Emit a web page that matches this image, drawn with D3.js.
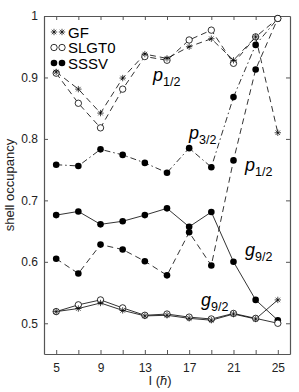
<!DOCTYPE html>
<html>
<head>
<meta charset="utf-8">
<script src="https://cdn.jsdelivr.net/npm/d3@7"></script>
<style>
body { margin: 0; background: #fff; }
text { font-family: "Liberation Sans", Arial, sans-serif; }
</style>
</head>
<body>
<svg></svg>
<script>
// spin values (x axis)
var spins = [5, 7, 9, 11, 13, 15, 17, 19, 21, 23, 25];
var xTickLabels = [5, 9, 13, 17, 21, 25];
var yTickValues = [0.5, 0.6, 0.7, 0.8, 0.9, 1];

// GF model
var gfP12 = [0.909, 0.881, 0.842, 0.899, 0.938, 0.931, 0.950, 0.963, 0.928, 0.966, 0.810];
var gfG92 = [0.519, 0.524, 0.533, 0.521, 0.512, 0.513, 0.508, 0.505, 0.515, 0.507, 0.538];
// SLGT0 model
var slP12 = [0.907, 0.858, 0.818, 0.881, 0.934, 0.928, 0.961, 0.977, 0.923, 0.966, 0.996];
var slG92 = [0.519, 0.530, 0.538, 0.525, 0.513, 0.515, 0.510, 0.507, 0.516, 0.508, 0.500];
// SSSV model
var ssP32 = [0.758, 0.756, 0.783, 0.774, 0.761, 0.745, 0.785, 0.754, 0.868, 0.953, 0.996];
var ssG92 = [0.676, 0.682, 0.661, 0.666, 0.676, 0.687, 0.657, 0.681, 0.600, 0.538, 0.505];
var ssP12 = [0.605, 0.581, 0.628, 0.620, 0.601, 0.578, 0.648, 0.594, 0.765, 0.913, 0.996];

var legendNames = ['GF', 'SLGT0', 'SSSV'];

var width = 299, height = 392;
var svg = d3.select('svg').attr('width', width).attr('height', height);

var x = d3.scaleLinear().domain([3.9, 26.1]).range([44, 290]);
var y = d3.scaleLinear().domain([0.45, 1]).range([354, 16]);

var dashed = '6,4';
var dashdot = '6,3,1.5,3';

var series = [
	{ values: ssP32, dash: dashdot, marker: 'dot' },
	{ values: ssG92, dash: null, marker: 'dot' },
	{ values: ssP12, dash: dashed, marker: 'dot' },
	{ values: slG92, dash: null, marker: 'circle' },
	{ values: gfG92, dash: null, marker: 'star' },
	{ values: slP12, dash: dashed, marker: 'circle' },
	{ values: gfP12, dash: dashed, marker: 'star' }
];

var frameColor = '#555';

// axes (ticks pointing inward, box around plot)
svg.append('g')
	.attr('transform', 'translate(0,354)')
	.call(d3.axisBottom(x).tickValues(spins).tickSize(-4).tickSizeOuter(0)
		.tickFormat(function(d) { return xTickLabels.indexOf(d) >= 0 ? d : ''; }))
	.call(styleAxis)
	.selectAll('text').attr('dy', '1.25em');

svg.append('g')
	.attr('transform', 'translate(0,16)')
	.call(d3.axisTop(x).tickValues(spins).tickSize(-4).tickSizeOuter(0).tickFormat(''))
	.call(styleAxis);

svg.append('g')
	.attr('transform', 'translate(44,0)')
	.call(d3.axisLeft(y).tickValues(yTickValues).tickSize(-4).tickSizeOuter(0)
		.tickFormat(function(d) { return d === 1 ? '1' : d3.format('.1f')(d); }))
	.call(styleAxis)
	.selectAll('text').attr('x', -6);

svg.append('g')
	.attr('transform', 'translate(290,0)')
	.call(d3.axisRight(y).tickValues(yTickValues).tickSize(-4).tickSizeOuter(0).tickFormat(''))
	.call(styleAxis);

function styleAxis(g) {
	g.select('.domain').attr('stroke', frameColor).attr('stroke-width', 1.2);
	g.selectAll('.tick line').attr('stroke', frameColor);
	g.selectAll('text').attr('font-size', 12).attr('fill', '#222')
		.attr('font-family', '"Liberation Sans", Arial, sans-serif');
}

// axis titles
svg.append('text')
	.attr('transform', 'translate(14,185) rotate(-90)')
	.attr('text-anchor', 'middle')
	.attr('font-size', 13)
	.attr('fill', '#222')
	.text('shell occupancy');

var xTitle = svg.append('text')
	.attr('x', 160).attr('y', 385)
	.attr('text-anchor', 'middle')
	.attr('font-size', 13)
	.attr('fill', '#222');
xTitle.append('tspan').text('I (');
xTitle.append('tspan').attr('font-style', 'italic').text('ħ');
xTitle.append('tspan').text(')');

// lines
var line = d3.line()
	.x(function(d, i) { return x(spins[i]); })
	.y(function(d) { return y(d); });

series.forEach(function(s) {
	svg.append('path')
		.datum(s.values)
		.attr('d', line)
		.attr('fill', 'none')
		.attr('stroke', '#000')
		.attr('stroke-width', 0.8)
		.attr('stroke-dasharray', s.dash);
});

function drawMarker(g, type, cx, cy) {
	if (type === 'dot') {
		g.append('circle').attr('cx', cx).attr('cy', cy).attr('r', 3.3).attr('fill', '#000');
	} else if (type === 'circle') {
		g.append('circle').attr('cx', cx).attr('cy', cy).attr('r', 3.2)
			.attr('fill', '#fff').attr('stroke', '#000').attr('stroke-width', 0.8);
	} else {
		var r = 3.2, q = r * 0.707;
		g.append('path')
			.attr('d', 'M' + (cx - r) + ',' + cy + 'H' + (cx + r) +
				'M' + cx + ',' + (cy - r) + 'V' + (cy + r) +
				'M' + (cx - q) + ',' + (cy - q) + 'L' + (cx + q) + ',' + (cy + q) +
				'M' + (cx - q) + ',' + (cy + q) + 'L' + (cx + q) + ',' + (cy - q))
			.attr('stroke', '#000').attr('stroke-width', 0.7).attr('fill', 'none');
	}
}

var markers = svg.append('g');
series.forEach(function(s) {
	s.values.forEach(function(v, i) {
		drawMarker(markers, s.marker, x(spins[i]), y(v));
	});
});

// legend
var legendTypes = ['star', 'circle', 'dot'];
var legend = svg.append('g');
legendNames.forEach(function(name, i) {
	var ly = 32 + i * 15.5;
	drawMarker(legend, legendTypes[i], 54, ly);
	drawMarker(legend, legendTypes[i], 62, ly);
	legend.append('text')
		.attr('x', 68).attr('y', ly + 5.5)
		.attr('font-size', 15)
		.text(name);
});

// orbital labels
var orbitLabels = [
	{ l: 'p', sub: '1/2', x: 153, y: 81 },
	{ l: 'p', sub: '3/2', x: 189, y: 139 },
	{ l: 'p', sub: '1/2', x: 245, y: 171 },
	{ l: 'g', sub: '9/2', x: 245, y: 256 },
	{ l: 'g', sub: '9/2', x: 201, y: 306 }
];
orbitLabels.forEach(function(o) {
	var t = svg.append('text').attr('x', o.x).attr('y', o.y).attr('font-size', 18);
	t.append('tspan').attr('font-style', 'italic').text(o.l);
	t.append('tspan').attr('dy', 5).attr('font-size', 12.5).text(o.sub);
});
</script>
</body>
</html>
